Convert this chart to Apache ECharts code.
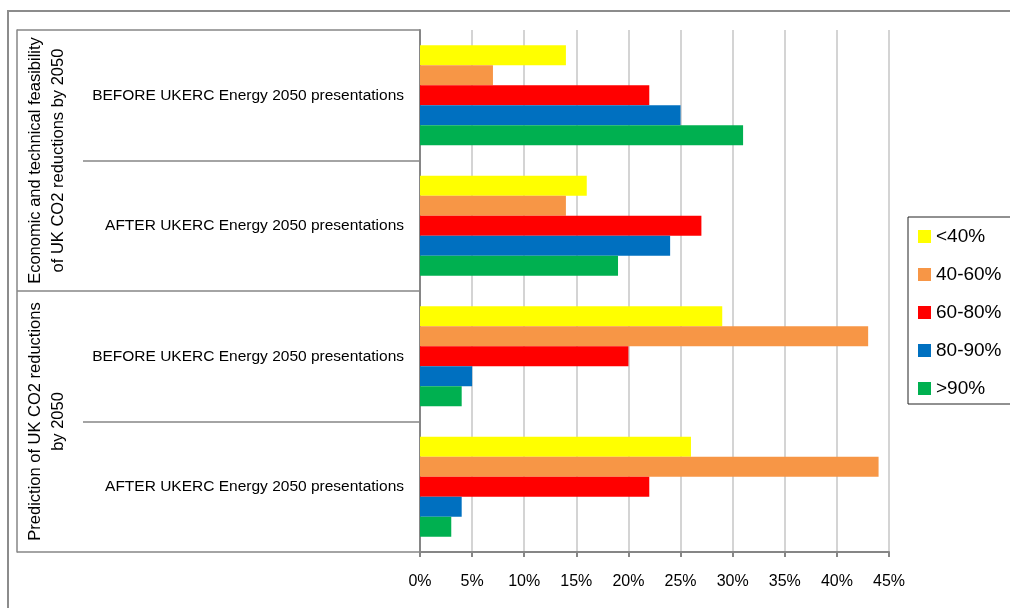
<!DOCTYPE html>
<html>
<head>
<meta charset="utf-8">
<script src="https://cdn.jsdelivr.net/npm/echarts@6/dist/echarts.min.js"></script>
<style>
  html, body { margin: 0; padding: 0; background: #fff; }
  #main { width: 1010px; height: 608px; }
</style>
</head>
<body>
<div id="main"></div>
<script>
// outer groups and inner categories (top to bottom)
const groups = [
  'Economic and technical feasibility\nof UK CO2 reductions by 2050',
  'Prediction of UK CO2 reductions\nby 2050'
];
const categories = [
  'BEFORE UKERC Energy 2050 presentations',
  'AFTER UKERC Energy 2050 presentations',
  'BEFORE UKERC Energy 2050 presentations',
  'AFTER UKERC Energy 2050 presentations'
];
const seriesNames = ['<40%', '40-60%', '60-80%', '80-90%', '>90%'];
const seriesColors = ['#FFFF00', '#F79646', '#FF0000', '#0070C0', '#00B050'];

// percent values per category
const below40 = [14, 16, 29, 26];
const from40to60 = [7, 14, 43, 44];
const from60to80 = [22, 27, 20, 22];
const from80to90 = [25, 24, 5, 4];
const above90 = [31, 19, 4, 3];
const seriesValues = [below40, from40to60, from60to80, from80to90, above90];

const xTicks = { min: 0, max: 45, interval: 5 };

const font = "'Liberation Sans', Arial, sans-serif";
const axisGray = '#868686';

const chart = echarts.init(document.getElementById('main'));

const option = {
  animation: false,
  backgroundColor: '#fff',
  textStyle: { fontFamily: font },
  grid: { left: 420, right: 121, top: 30, bottom: 56 },
  legend: {
    orient: 'vertical',
    left: 908,
    top: 217,
    padding: [9, 10, 5, 10],
    borderColor: '#222',
    borderWidth: 1,
    itemWidth: 13,
    itemHeight: 13,
    itemGap: 17,
    icon: 'rect',
    textStyle: { fontFamily: font, fontSize: 19, color: '#000', lineHeight: 21 },
    data: seriesNames
  },
  xAxis: {
    type: 'value',
    min: xTicks.min,
    max: xTicks.max,
    interval: xTicks.interval,
    axisLine: { show: true, lineStyle: { color: axisGray, width: 2 } },
    axisTick: { show: true, length: 5, lineStyle: { color: axisGray, width: 2 } },
    axisLabel: { formatter: '{value}%', color: '#000', fontSize: 16, margin: 22, fontFamily: font },
    splitLine: { show: true, lineStyle: { color: '#d4d4d4', width: 2 } }
  },
  yAxis: [{
    type: 'category',
    inverse: true,
    data: categories,
    axisLine: { show: true, lineStyle: { color: axisGray, width: 2 } },
    axisTick: { show: true, interval: 0, length: 337, lineStyle: { color: axisGray, width: 1.5 } },
    axisLabel: { interval: 0, color: '#000', fontSize: 15.5, margin: 16, fontFamily: font }
  }, {
    type: 'category',
    inverse: true,
    position: 'left',
    offset: 403,
    data: groups,
    axisLine: { show: true, lineStyle: { color: axisGray, width: 1.5 } },
    axisTick: { show: true, interval: 0, inside: true, length: 403, lineStyle: { color: axisGray, width: 1.5 } },
    axisLabel: {
      interval: 0,
      inside: true,
      rotate: 90,
      margin: 7,
      align: 'center',
      verticalAlign: 'top',
      lineHeight: 23,
      color: '#000',
      fontSize: 16.5,
      fontFamily: font
    }
  }],
  series: seriesNames.map(function (name, i) {
    return {
      name: name,
      type: 'bar',
      yAxisIndex: 0,
      data: seriesValues[i],
      barWidth: 20,
      barGap: '0%',
      itemStyle: { color: seriesColors[i] }
    };
  }),
  graphic: [{
    type: 'rect',
    shape: { x: 8, y: 11, width: 1010, height: 610 },
    style: { fill: 'none', stroke: '#8c8c8c', lineWidth: 2 },
    silent: true
  }]
};

chart.setOption(option);
</script>
</body>
</html>
